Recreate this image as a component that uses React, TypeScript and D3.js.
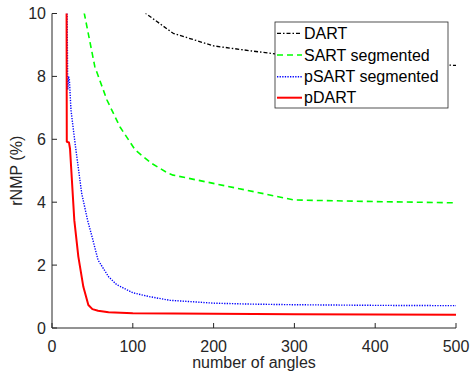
import React from "react";
import * as d3 from "d3";

const xTicks = [0, 100, 200, 300, 400, 500];
const yTicks = [0, 2, 4, 6, 8, 10];

const dartX = [100, 150, 200, 250, 300, 350, 400, 450, 500];
const dartY = [10.3, 9.37, 8.97, 8.8, 8.64, 8.54, 8.46, 8.4, 8.35];

const sartX = [35, 40, 53, 68, 84, 103, 123, 143, 150, 300, 400, 500];
const sartY = [10.65, 10.0, 8.31, 7.25, 6.4, 5.66, 5.24, 4.93, 4.86, 4.07, 4.02, 3.98];

const psartX = [18.5, 19.5, 20.5, 21.5, 23.5, 28.5, 36.7, 44, 50, 57, 70, 80, 100, 120, 146, 200, 245, 300, 400, 500];
const psartY = [10.5, 7.6, 8.0, 7.9, 6.93, 5.88, 4.29, 3.43, 2.86, 2.16, 1.63, 1.38, 1.12, 1.0, 0.88, 0.79, 0.76, 0.74, 0.72, 0.71];

const pdartX = [18, 18.3, 21, 22.3, 27.6, 32.6, 38.8, 45, 50, 57, 70, 100, 200, 300, 500];
const pdartY = [10.5, 5.92, 5.9, 5.7, 3.43, 2.27, 1.31, 0.73, 0.6, 0.55, 0.5, 0.47, 0.45, 0.44, 0.42];

const legendLabels = ["DART", "SART segmented", "pSART segmented", "pDART"];

const W = 471, H = 374;
const left = 52, right = 456, top = 13.5, bottom = 328;
const font = "'Liberation Sans', Arial, sans-serif";
const axisColor = "#262626";

export default function App() {
  const x = d3.scaleLinear().domain([0, 500]).range([left, right]);
  const y = d3.scaleLinear().domain([0, 10]).range([bottom, top]);
  const mk = (xs: number[], ys: number[]) =>
    d3.line<number>().x((_, i) => x(xs[i])).y((d) => y(d))(ys) || "";

  const series = [
    { d: mk(dartX, dartY), color: "#000000", dash: "4,2,1.5,2", w: 1.3 },
    { d: mk(sartX, sartY), color: "#00ff00", dash: "6,4", w: 1.6 },
    { d: mk(psartX, psartY), color: "#0000ff", dash: "1.3,1.3", w: 1.4 },
    { d: mk(pdartX, pdartY), color: "#ff0000", dash: "", w: 2 },
  ];

  const lgX = 275, lgY = 22, lgW = 173, lgH = 86;
  const rowY = [33.3, 55, 76.7, 97.7];

  return (
    <svg width={W} height={H} style={{ position: "absolute", left: 0, top: 0, background: "#fff" }} fontFamily={font}>
      <defs>
        <clipPath id="plotClip">
          <rect x={left} y={top} width={right - left + 2} height={bottom - top} />
        </clipPath>
      </defs>
      <g clipPath="url(#plotClip)">
        {series.map((s, i) => (
          <path key={i} d={s.d} fill="none" stroke={s.color} strokeWidth={s.w}
            strokeDasharray={s.dash || undefined} strokeLinejoin="round" />
        ))}
      </g>
      <line x1={left} x2={left} y1={top} y2={bottom} stroke={axisColor} strokeWidth={1} />
      <line x1={left} x2={right} y1={bottom} y2={bottom} stroke={axisColor} strokeWidth={1} />
      {xTicks.map((t) => (
        <g key={"x" + t}>
          <line x1={x(t)} x2={x(t)} y1={bottom} y2={bottom - 5} stroke={axisColor} />
          <text x={x(t)} y={352} textAnchor="middle" fontSize={16} fill={axisColor}>{t}</text>
        </g>
      ))}
      {yTicks.map((t) => (
        <g key={"y" + t}>
          <line x1={left} x2={left + 5} y1={y(t)} y2={y(t)} stroke={axisColor} />
          <text x={46} y={y(t)} dy="0.36em" textAnchor="end" fontSize={16} fill={axisColor}>{t}</text>
        </g>
      ))}
      <text x={(left + right) / 2} y={368} textAnchor="middle" fontSize={16} fill={axisColor}>number of angles</text>
      <text transform={`translate(22,${(top + bottom) / 2}) rotate(-90)`} textAnchor="middle" fontSize={16} fill={axisColor}>rNMP (%)</text>
      <rect x={lgX} y={lgY} width={lgW} height={lgH} fill="#fff" stroke={axisColor} strokeWidth={0.8} />
      {legendLabels.map((lab, i) => (
        <g key={lab}>
          <line x1={277} x2={302} y1={rowY[i]} y2={rowY[i]} stroke={series[i].color}
            strokeWidth={series[i].w} strokeDasharray={series[i].dash || undefined} />
          <text x={304} y={rowY[i]} dy="0.36em" fontSize={16} fill="#000">{lab}</text>
        </g>
      ))}
    </svg>
  );
}
